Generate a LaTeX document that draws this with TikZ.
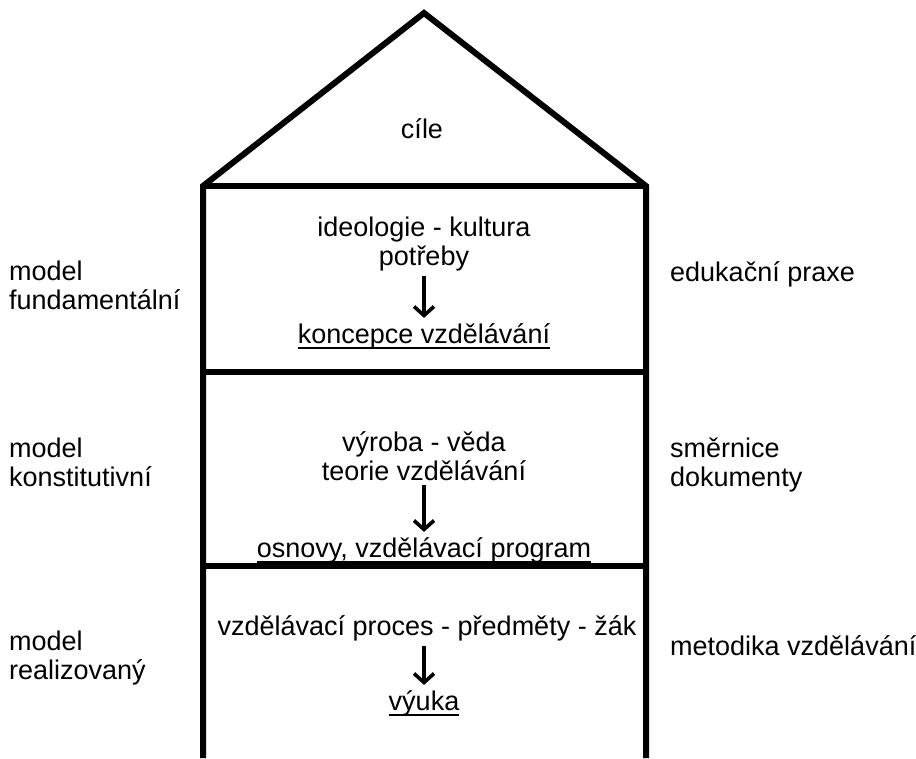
\documentclass[tikz,border=0pt]{standalone}
\usepackage{fontspec}
\setmainfont{Liberation Sans}
\usetikzlibrary{arrows.meta}

\tikzset{
  wall/.style={line width=6pt, line join=miter, black},
  floor/.style={line width=5.5pt, black},
  txt/.style={inner sep=0pt, anchor=base, font=\fontsize{27}{29}\selectfont, text=black},
  side/.style={txt, anchor=base west},
  flow/.style={line width=3.6pt, black, -{Straight Barb[length=9pt,width=20pt]}, shorten <=5pt, shorten >=5pt},
  uline/.style={line width=2pt, black}
}

\begin{document}
\begin{tikzpicture}[x=1pt, y=-1pt]
  \useasboundingbox (0,0) rectangle (916,758);

  % house outline: walls, roof and floors
  \draw[wall] (203,758) -- (203,186) -- (424,13) -- (646,186) -- (646,758);
  \draw[wall] (203,186) -- (646,186);
  \draw[floor] (203,372) -- (646,372);
  \draw[floor] (203,566) -- (646,566);

  % roof
  \node[txt] (roof) at (422,138) {cíle};

  % first storey
  \node[txt] (a1) at (424,236) {ideologie - kultura};
  \node[txt] (a2) at (424,265) {potřeby};
  \node[txt] (a3) at (424,343) {koncepce vzdělávání};
  \draw[flow] (a2.south) -- (a3.north);
  \draw[uline] ([yshift=-5pt]a3.base west) -- ([yshift=-5pt]a3.base east);

  % second storey
  \node[txt] (b1) at (424,451) {výroba - věda};
  \node[txt] (b2) at (424,480) {teorie vzdělávání};
  \node[txt] (b3) at (424,557) {osnovy, vzdělávací program};
  \draw[flow] (b2.south) -- (b3.north);
  \draw[uline] ([yshift=-5pt]b3.base west) -- ([yshift=-5pt]b3.base east);

  % third storey
  \node[txt] (c1) at (427,635) {vzdělávací proces - předměty - žák};
  \node[txt] (c3) at (424,710) {výuka};
  \draw[flow] (c1.south -| c3.north) -- (c3.north);
  \draw[uline] ([yshift=-5pt]c3.base west) -- ([yshift=-5pt]c3.base east);

  % models on the left
  \node[side] (l1a) at (9,280) {model};
  \node[side] (l1b) at (9,309) {fundamentální};
  \node[side] (l2a) at (9,457) {model};
  \node[side] (l2b) at (9,486) {konstitutivní};
  \node[side] (l3a) at (9,650) {model};
  \node[side] (l3b) at (9,679) {realizovaný};

  % practice on the right
  \node[side] (r1) at (670,281) {edukační praxe};
  \node[side] (r2a) at (670,457) {směrnice};
  \node[side] (r2b) at (670,486) {dokumenty};
  \node[side] (r3) at (670,655) {metodika vzdělávání};
\end{tikzpicture}
\end{document}
